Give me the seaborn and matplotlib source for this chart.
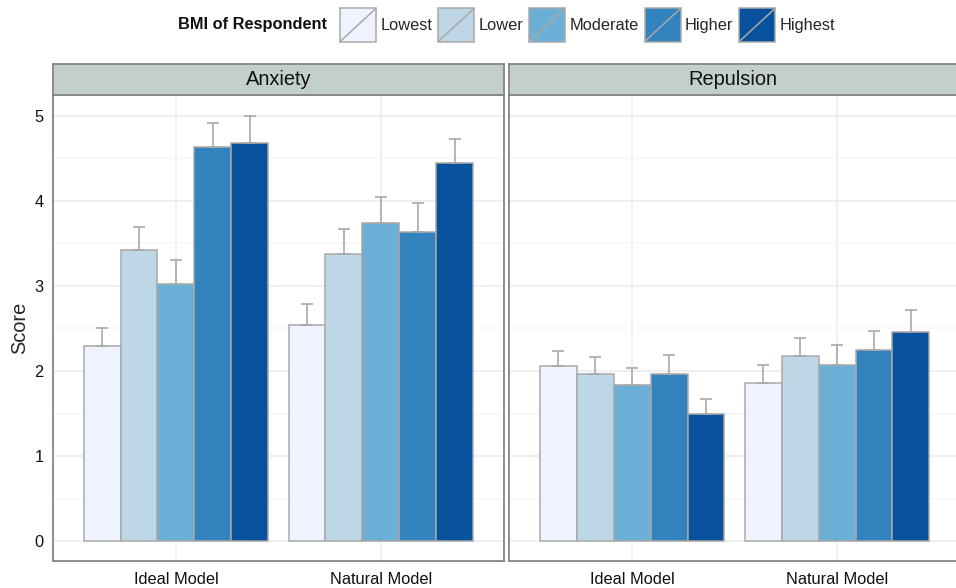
import numpy as np
import pandas as pd
import matplotlib
matplotlib.use("Agg")
import matplotlib.pyplot as plt
import seaborn as sns
from matplotlib.patches import Patch, Rectangle
from matplotlib.lines import Line2D
from matplotlib.legend_handler import HandlerBase
from matplotlib.ticker import MultipleLocator

# ---- data -------------------------------------------------------------
models = ["Ideal Model", "Natural Model"]
bmi_levels = ["Lowest", "Lower", "Moderate", "Higher", "Highest"]
panels = ["Anxiety", "Repulsion"]

anxiety_ideal = [2.29, 3.42, 3.02, 4.64, 4.68]
anxiety_ideal_se = [0.22, 0.27, 0.29, 0.28, 0.32]
anxiety_natural = [2.545, 3.38, 3.74, 3.63, 4.45]
anxiety_natural_se = [0.245, 0.29, 0.31, 0.35, 0.28]

repulsion_ideal = [2.055, 1.96, 1.84, 1.965, 1.50]
repulsion_ideal_se = [0.18, 0.21, 0.20, 0.225, 0.17]
repulsion_natural = [1.855, 2.175, 2.075, 2.25, 2.455]
repulsion_natural_se = [0.215, 0.215, 0.235, 0.22, 0.265]

palette = ["#eff3ff", "#bdd7e7", "#6baed6", "#3182bd", "#08519c"]

rows = []
for panel, series in [
    ("Anxiety", [(models[0], anxiety_ideal, anxiety_ideal_se),
                 (models[1], anxiety_natural, anxiety_natural_se)]),
    ("Repulsion", [(models[0], repulsion_ideal, repulsion_ideal_se),
                   (models[1], repulsion_natural, repulsion_natural_se)]),
]:
    for model, means, ses in series:
        for lvl, m, s in zip(bmi_levels, means, ses):
            rows.append({"panel": panel, "model": model, "bmi": lvl,
                         "score": m, "se": s})
df = pd.DataFrame(rows)

# ---- style ------------------------------------------------------------
sns.set_style("white")
plt.rcParams["font.family"] = ["Liberation Sans", "DejaVu Sans"]
FS = 11.8
EDGE = "#a9a9a9"
BORDER = "#858585"

W, H = 956, 588
fig = plt.figure(figsize=(W / 100, H / 100), dpi=100)
fig.patch.set_facecolor("white")

ax_left = [53, 509.3]
ax_w = 450.7
top_px, bot_px = 94.7, 561.0
strip_top = 64.3


class SlashKey(HandlerBase):
    def create_artists(self, legend, orig_handle, xdescent, ydescent,
                       width, height, fontsize, trans):
        x0, y0 = -xdescent, -ydescent
        rect = Rectangle((x0, y0), width, height,
                         facecolor=orig_handle.get_facecolor(),
                         edgecolor=EDGE, linewidth=1.1, transform=trans)
        line = Line2D([x0, x0 + width], [y0, y0 + height],
                      color=EDGE, linewidth=1.1, transform=trans)
        return [rect, line]


for i, panel in enumerate(panels):
    ax = fig.add_axes([ax_left[i] / W, (H - bot_px) / H,
                       ax_w / W, (bot_px - top_px) / H])
    sub = df[df["panel"] == panel]
    sns.barplot(data=sub, x="model", y="score", hue="bmi",
                order=models, hue_order=bmi_levels, palette=palette,
                saturation=1, width=0.9, errorbar=None, legend=False,
                edgecolor=EDGE, linewidth=1.1, ax=ax, zorder=2)

    # upper standard-error whiskers
    for lvl, cont in zip(bmi_levels, ax.containers):
        xs = [b.get_x() + b.get_width() / 2 for b in cont]
        ys = [b.get_height() for b in cont]
        se = [sub[(sub["model"] == m) & (sub["bmi"] == lvl)]["se"].iloc[0]
              for m in models]
        ax.errorbar(xs, ys, yerr=[np.zeros(len(se)), se], fmt="none",
                    ecolor=EDGE, elinewidth=1.2, capsize=4.3, capthick=1.2,
                    zorder=3)

    ax.set_xlim(-0.6, 1.6)
    ax.set_ylim(-0.235, 5.25)
    ax.set_yticks([0, 1, 2, 3, 4, 5])
    ax.yaxis.set_minor_locator(MultipleLocator(0.5))
    ax.set_axisbelow(True)
    ax.grid(which="major", color="#ebebeb", linewidth=1.1)
    ax.grid(which="minor", axis="y", color="#f6f6f6", linewidth=1.1)
    ax.set_xlabel("")
    ax.set_ylabel("")
    for sp in ax.spines.values():
        sp.set_visible(True)
        sp.set_color(BORDER)
        sp.set_linewidth(1.3)
    ax.tick_params(axis="x", which="major", length=3.6, width=1.0,
                   color="#333333", labelsize=FS, labelcolor="#111111", pad=4)
    ax.tick_params(which="minor", length=0)
    if i == 0:
        ax.tick_params(axis="y", which="major", length=3.6, width=1.0,
                       color="#333333", labelsize=FS, labelcolor="#111111",
                       pad=3)
        ax.set_ylabel("Score", fontsize=14.4, labelpad=4)
    else:
        ax.tick_params(axis="y", which="major", length=0, labelleft=False)

    # facet strip
    sax = fig.add_axes([ax_left[i] / W, (H - top_px) / H,
                        ax_w / W, (top_px - strip_top) / H])
    sax.set_facecolor("#c3cfcc")
    sax.set_xticks([])
    sax.set_yticks([])
    for sp in sax.spines.values():
        sp.set_visible(True)
        sp.set_color(BORDER)
        sp.set_linewidth(1.3)
    sax.text(0.5 * (ax_w if i == 0 else (956 - ax_left[i])) / ax_w, 0.5,
             panel, ha="center", va="center", fontsize=14.4,
             color="#111111", transform=sax.transAxes)

# ---- legend -----------------------------------------------------------
handles = [Patch(facecolor=c) for c in palette]
fig.text(327 / W, 1 - 25 / H, "BMI of Respondent", ha="right", va="center",
         fontsize=FS, fontweight="bold", color="#111111")
fig.legend(handles, bmi_levels, loc="center left",
           bbox_to_anchor=(340 / W, 1 - 25 / H), ncol=5, frameon=False,
           fontsize=FS, handlelength=2.2, handleheight=2.75,
           handletextpad=0.25, columnspacing=0.37, borderpad=0,
           borderaxespad=0, handler_map={Patch: SlashKey()})

fig.savefig("out.png", dpi=100, facecolor="white")
